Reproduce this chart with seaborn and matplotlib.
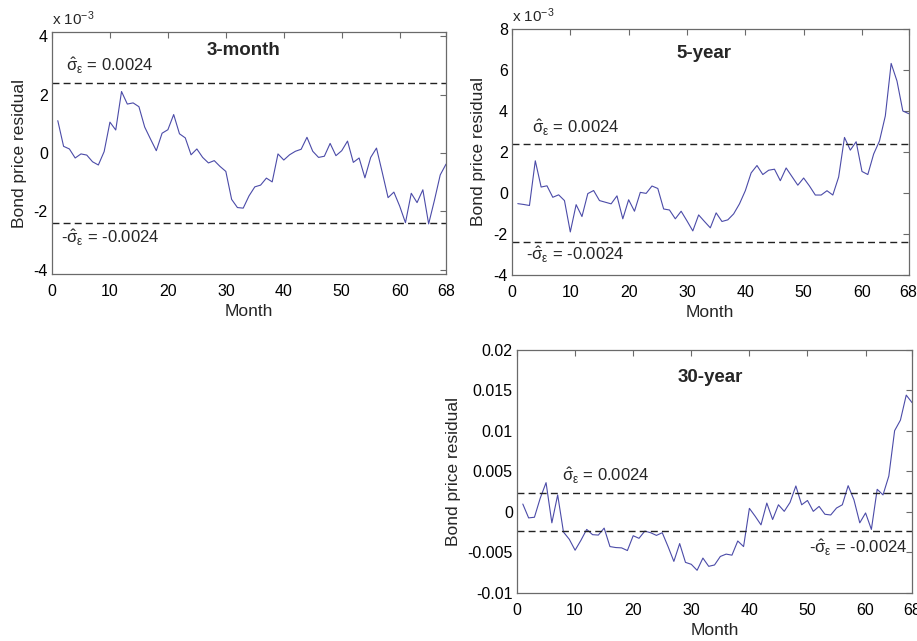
import numpy as np
import pandas as pd
import seaborn as sns
import matplotlib
matplotlib.use("Agg")
import matplotlib.pyplot as plt

# residuals, all in units of 1e-3
months = list(range(1, 69))

res_3m = [1.11, 0.23, 0.14, -0.17, -0.03, -0.07, -0.30, -0.41, 0.05, 1.06,
          0.79, 2.11, 1.68, 1.72, 1.59, 0.89, 0.48, 0.08, 0.68, 0.80,
          1.32, 0.66, 0.52, -0.06, 0.14, -0.15, -0.34, -0.26, -0.46, -0.63,
          -1.59, -1.87, -1.89, -1.47, -1.16, -1.10, -0.86, -0.99, -0.03, -0.24,
          -0.06, 0.06, 0.13, 0.54, 0.06, -0.15, -0.11, 0.33, -0.09, 0.08,
          0.41, -0.32, -0.17, -0.85, -0.15, 0.17, -0.67, -1.53, -1.34, -1.82,
          -2.39, -1.38, -1.70, -1.26, -2.43, -1.62, -0.75, -0.38]

res_5y = [-0.52, -0.56, -0.61, 1.57, 0.29, 0.35, -0.21, -0.09, -0.37, -1.90,
          -0.57, -1.15, -0.03, 0.12, -0.37, -0.45, -0.53, -0.14, -1.26, -0.33,
          -0.89, 0.03, -0.02, 0.34, 0.22, -0.78, -0.83, -1.26, -0.89, -1.36,
          -1.85, -1.07, -1.39, -1.70, -0.97, -1.39, -1.31, -1.02, -0.53, 0.11,
          0.98, 1.34, 0.90, 1.11, 1.16, 0.60, 1.22, 0.80, 0.38, 0.73,
          0.34, -0.10, -0.10, 0.11, -0.10, 0.78, 2.71, 2.09, 2.50, 1.05,
          0.90, 1.90, 2.54, 3.76, 6.32, 5.46, 4.00, 3.87]

res_30y = [0.98, -0.73, -0.65, 1.71, 3.62, -1.34, 2.11, -2.48, -3.37, -4.72,
           -3.50, -2.15, -2.80, -2.85, -1.99, -4.27, -4.39, -4.43, -4.76, -2.93,
           -3.25, -2.36, -2.56, -2.89, -2.56, -4.27, -6.10, -3.90, -6.22, -6.46,
           -7.20, -5.69, -6.71, -6.54, -5.49, -5.20, -5.33, -3.58, -4.27, 0.45,
           -0.53, -1.59, 1.10, -0.93, 0.89, 0.08, 1.18, 3.21, 0.89, 1.42,
           0.08, 0.69, -0.28, -0.37, 0.49, 0.89, 3.25, 1.50, -1.34, -0.12,
           -2.15, 2.80, 2.11, 4.43, 10.04, 11.34, 14.43, 13.50]

sigma = 0.0024
xticks = [0, 10, 20, 30, 40, 50, 60, 68]

sns.set_theme(style="white")
plt.rcParams["font.family"] = ["Liberation Sans", "DejaVu Sans"]
plt.rcParams["axes.unicode_minus"] = False
plt.rcParams["mathtext.fontset"] = "custom"
plt.rcParams["mathtext.rm"] = "Liberation Sans"
plt.rcParams["mathtext.it"] = "Liberation Sans"

df = pd.DataFrame({"Month": months,
                   "3m": np.array(res_3m) * 1e-3,
                   "5y": np.array(res_5y) * 1e-3,
                   "30y": np.array(res_30y) * 1e-3})

fig = plt.figure(figsize=(9.17, 6.41), dpi=100)

# (column, title, box, ylim, yticks, scale, title pos, upper label, lower label)
panels = [
    ("3m", "3-month", [0.0567, 0.5725, 0.4297, 0.3775], (-4.15e-3, 4.15e-3),
     [-4e-3, -2e-3, 0, 2e-3, 4e-3], 1e-3, (0.487, 0.925), (2.4, 3.0e-3), (1.5, -2.91e-3)),
    ("5y", "5-year", [0.5583, 0.571, 0.4326, 0.3838], (-4e-3, 8e-3),
     [-4e-3, -2e-3, 0, 2e-3, 4e-3, 6e-3, 8e-3], 1e-3, (0.485, 0.9), (3.4, 3.17e-3), (2.4, -3.0e-3)),
    ("30y", "30-year", [0.5638, 0.0749, 0.4308, 0.3791], (-0.01, 0.02),
     [-0.01, -0.005, 0, 0.005, 0.01, 0.015, 0.02], None, (0.49, 0.885), (7.7, 4.5e-3), (50.2, -4.45e-3)),
]

edge = "#6a6a6a"
for col, title, box, ylim, yticks, scale, tpos, up, lo in panels:
    ax = fig.add_axes(box)
    sns.lineplot(data=df, x="Month", y=col, ax=ax, color="#4b4ba8", linewidth=0.8)
    ax.axhline(sigma, color="#222222", linestyle=(0, (5, 3)), linewidth=1.0)
    ax.axhline(-sigma, color="#222222", linestyle=(0, (5, 3)), linewidth=1.0)
    ax.set_xlim(0, 68)
    ax.set_ylim(*ylim)
    ax.set_xticks(xticks)
    ax.set_yticks(yticks)
    if scale:
        ax.set_yticklabels([f"{t / scale:g}" for t in yticks])
        ax.text(0.0, 1.015, r"x 10$^{\mathregular{-3}}$", transform=ax.transAxes,
                fontsize=11, ha="left", va="bottom")
    else:
        ax.set_yticklabels([f"{t:g}" for t in yticks])
    for s in ax.spines.values():
        s.set_color(edge)
        s.set_linewidth(0.9)
    ax.tick_params(direction="in", length=4, width=0.8, color=edge,
                   top=True, right=True, labelsize=11.5, labelcolor="black")
    ax.tick_params(axis="x", pad=7)
    ax.tick_params(axis="y", pad=3)
    ax.set_xlabel("Month", fontsize=12.5, labelpad=4)
    ax.set_ylabel("Bond price residual", fontsize=12.5, labelpad=5)
    ax.text(tpos[0], tpos[1], title, transform=ax.transAxes, fontsize=13.5,
            fontweight="bold", ha="center", va="center")
    ax.text(up[0], up[1], r"$\hat{\sigma}_{\varepsilon}$ = 0.0024", fontsize=12,
            ha="left", va="center")
    ax.text(lo[0], lo[1], r"-$\hat{\sigma}_{\varepsilon}$ = -0.0024", fontsize=12,
            ha="left", va="center")

fig.savefig("out.png", dpi=100)
